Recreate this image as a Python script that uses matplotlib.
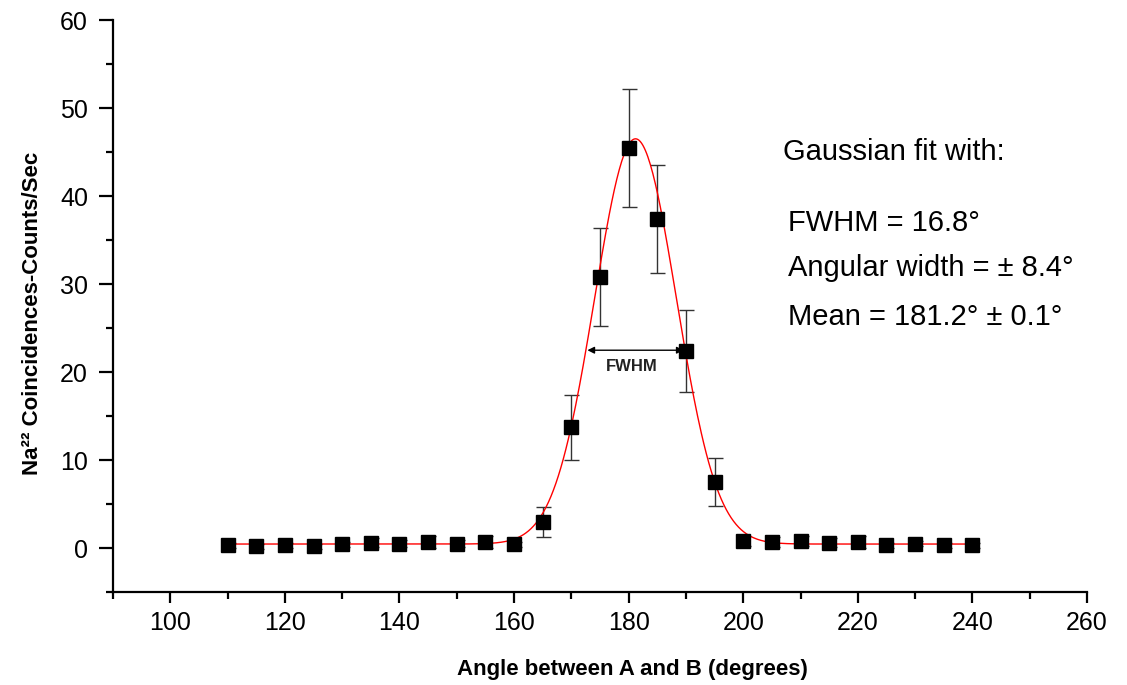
import numpy as np
import matplotlib
matplotlib.use("Agg")
import matplotlib.pyplot as plt
from matplotlib.ticker import MultipleLocator

plt.rcParams['font.family'] = ['Liberation Sans', 'DejaVu Sans']

angles = [110, 115, 120, 125, 130, 135, 140, 145, 150, 155, 160, 165, 170, 175,
          180, 185, 190, 195, 200, 205, 210, 215, 220, 225, 230, 235, 240]
counts = [0.3, 0.2, 0.3, 0.2, 0.4, 0.6, 0.5, 0.7, 0.5, 0.7, 0.4, 3.0, 13.7, 30.8,
          45.5, 37.4, 22.4, 7.5, 0.8, 0.7, 0.8, 0.6, 0.7, 0.3, 0.5, 0.3, 0.3]
errors = [0.3, 0.3, 0.3, 0.3, 0.3, 0.5, 0.4, 0.7, 0.4, 0.7, 0.3, 1.7, 3.7, 5.6,
          6.7, 6.1, 4.7, 2.7, 0.6, 0.6, 0.6, 0.5, 0.7, 0.3, 0.3, 0.3, 0.3]

# Gaussian fit parameters (from the chart text)
fit_y0 = 0.45
fit_amp = 46.05
fit_mean = 181.2
fit_fwhm = 16.8

fig = plt.figure(figsize=(11.27, 6.85), dpi=100)
ax = fig.add_axes([113 / 1127, 1 - 592 / 685, 974 / 1127, 572 / 685])

xf = np.linspace(min(angles), max(angles), 600)
sigma = fit_fwhm / (2 * np.sqrt(2 * np.log(2)))
yf = fit_y0 + fit_amp * np.exp(-0.5 * ((xf - fit_mean) / sigma) ** 2)

ax.errorbar(angles, counts, yerr=errors, fmt='none', ecolor='#333333',
            elinewidth=1.0, capsize=5.4, capthick=1.0, zorder=2)
ax.plot(xf, yf, color='red', lw=1.0, zorder=3)
ax.plot(angles, counts, 's', color='black', markersize=10, zorder=4)

half = fit_y0 + fit_amp / 2 - 1.0
ax.annotate('', xy=(fit_mean - fit_fwhm / 2, half), xytext=(fit_mean + fit_fwhm / 2, half),
            arrowprops=dict(arrowstyle='<|-|>', color='black', lw=1.0,
                            mutation_scale=10, shrinkA=0, shrinkB=0), zorder=5)
ax.text(180.6, 20.6, 'FWHM', fontsize=12, fontweight='bold', ha='center', va='center',
        color='#222222')

ax.text(0.6876, 0.769, 'Gaussian fit with:', transform=ax.transAxes, fontsize=21, va='center')
ax.text(0.6927, 0.645, 'FWHM = 16.8°', transform=ax.transAxes, fontsize=21, va='center')
ax.text(0.6927, 0.566, 'Angular width = ± 8.4°', transform=ax.transAxes, fontsize=21, va='center')
ax.text(0.6927, 0.481, 'Mean = 181.2° ± 0.1°', transform=ax.transAxes, fontsize=21, va='center')

ax.set_xlim(90, 260)
ax.set_ylim(-5, 60)
ax.xaxis.set_minor_locator(MultipleLocator(10))
ax.yaxis.set_minor_locator(MultipleLocator(5))
ax.set_xticks(range(100, 261, 20))
ax.set_yticks(range(0, 61, 10))

for s in ['top', 'right']:
    ax.spines[s].set_visible(False)
for s in ['left', 'bottom']:
    ax.spines[s].set_linewidth(1.6)

ax.tick_params(which='major', direction='out', width=1.6, labelsize=18)
ax.tick_params(axis='x', which='major', length=8, pad=6)
ax.tick_params(axis='y', which='major', length=10, pad=8)
ax.tick_params(which='minor', direction='out', length=5, width=1.6)

fig.text(632 / 1127, 1 - 670 / 685, 'Angle between A and B (degrees)', fontsize=16,
         fontweight='bold', ha='center', va='center')
fig.text(33 / 1127, 1 - 313 / 685, 'Na²² Coincidences-Counts/Sec', fontsize=16,
         fontweight='bold', ha='center', va='center', rotation=90)

fig.savefig('out.png', dpi=100)
